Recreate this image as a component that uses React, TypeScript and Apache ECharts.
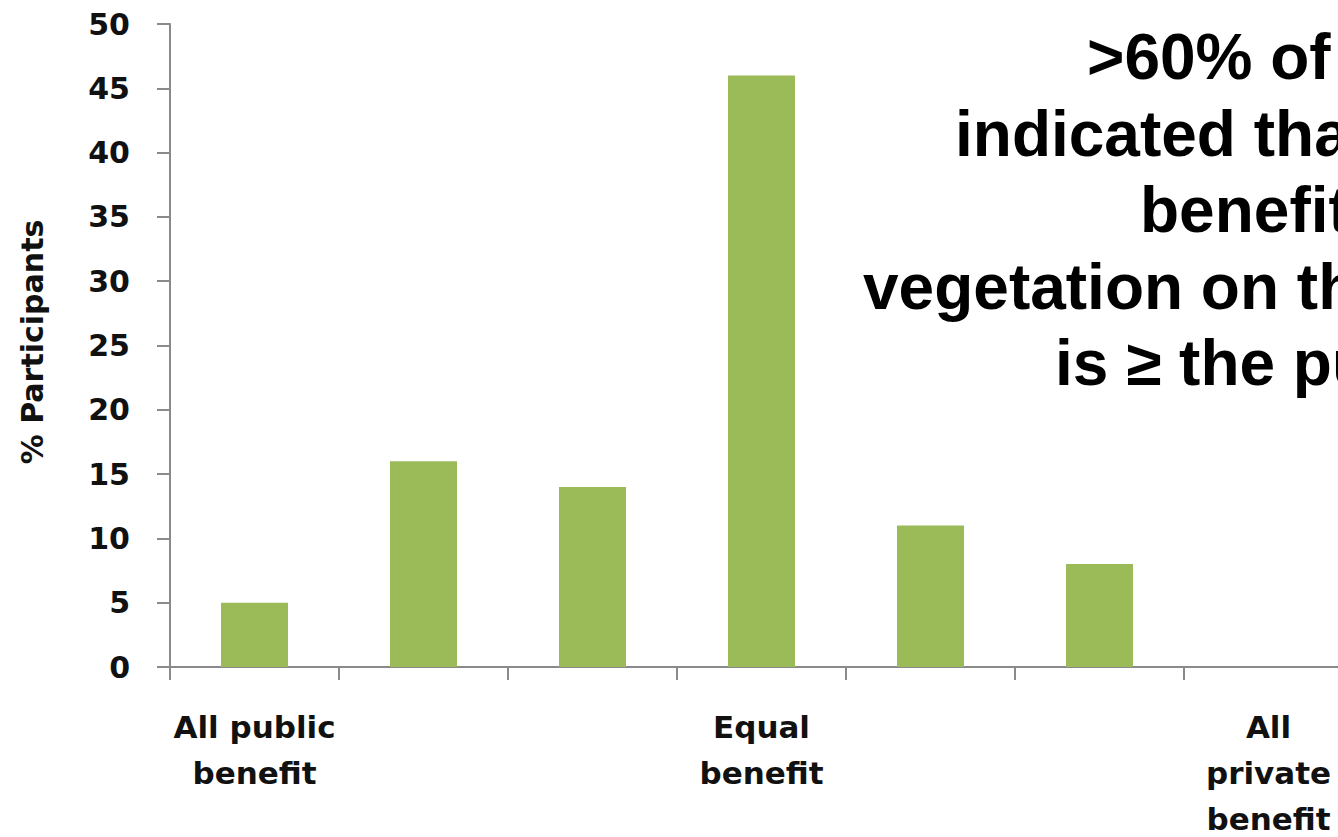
import React, { useEffect, useRef } from "react";
import * as echarts from "echarts";

const categories = ["c1", "c2", "c3", "c4", "c5", "c6", "c7"];
const categoryLabels = [
  "All public\nbenefit",
  "",
  "",
  "Equal\nbenefit",
  "",
  "",
  "All\nprivate\nbenefit",
];
const participantsPct = [5, 16, 14, 46, 11, 8, 0];
const yTicks = { min: 0, max: 50, interval: 5 };
const yAxisTitle = "% Participants";
const noteLines = [
  ">60% of participants",
  "indicated that private",
  "benefit of",
  "vegetation on their property",
  "is \u2265 the public benefit",
];
// left edge and vertical centre of each note line
const noteLeft = [1087, 955, 1140, 863, 1055];
const noteMid = [57, 134, 210, 287, 363];

const CHART_W = 2300;
const CHART_H = 837;

export default function App() {
  const ref = useRef<HTMLDivElement>(null);
  useEffect(() => {
    if (!ref.current) return;
    const chart = echarts.init(ref.current, undefined, { renderer: "svg" });
    const axisGray = "#8a8a8a";
    const labelFont = "'DejaVu Sans', sans-serif";
    chart.setOption({
      animation: false,
      backgroundColor: "#ffffff",
      grid: {
        left: 170,
        top: 24,
        width: 1183,
        height: 643,
        containLabel: false,
        outerBoundsMode: "none",
      },
      xAxis: {
        type: "category",
        data: categories,
        axisLine: { show: true, lineStyle: { color: axisGray, width: 2 } },
        axisTick: { show: true, length: 13, inside: false, lineStyle: { color: axisGray, width: 2 } },
        axisLabel: {
          interval: 0,
          margin: 37,
          color: "#111",
          fontFamily: labelFont,
          fontWeight: "bold",
          fontSize: 31,
          lineHeight: 46,
          formatter: (_v: string, i: number) => categoryLabels[i],
        },
        splitLine: { show: false },
      },
      yAxis: {
        type: "value",
        min: yTicks.min,
        max: yTicks.max,
        interval: yTicks.interval,
        axisLine: { show: true, lineStyle: { color: axisGray, width: 2 } },
        axisTick: { show: true, length: 13, inside: false, lineStyle: { color: axisGray, width: 2 } },
        axisLabel: {
          margin: 40,
          color: "#111",
          fontFamily: labelFont,
          fontWeight: "bold",
          fontSize: 30,
        },
        splitLine: { show: false },
      },
      series: [
        {
          type: "bar",
          data: participantsPct,
          barWidth: 67,
          itemStyle: { color: "#9bbb59" },
        },
      ],
      graphic: [
        {
          type: "text",
          x: 32,
          y: 342,
          rotation: Math.PI / 2,
          style: {
            text: yAxisTitle,
            font: "bold 30px 'DejaVu Sans', sans-serif",
            fill: "#111",
            align: "center",
            verticalAlign: "middle",
          },
        },
        ...noteLines.map((t, i) => ({
          type: "text",
          x: noteLeft[i],
          y: noteMid[i],
          style: {
            text: t,
            font: "bold 64px 'Liberation Sans', Arial, sans-serif",
            fill: "#000",
            align: "left",
            verticalAlign: "middle",
          },
        })),
      ],
    });
    return () => chart.dispose();
  }, []);
  return (
    <div
      style={{
        position: "fixed",
        left: 0,
        top: 0,
        width: 1338,
        height: 837,
        overflow: "hidden",
        background: "#fff",
      }}
    >
      <div ref={ref} style={{ width: CHART_W, height: CHART_H }} />
    </div>
  );
}
